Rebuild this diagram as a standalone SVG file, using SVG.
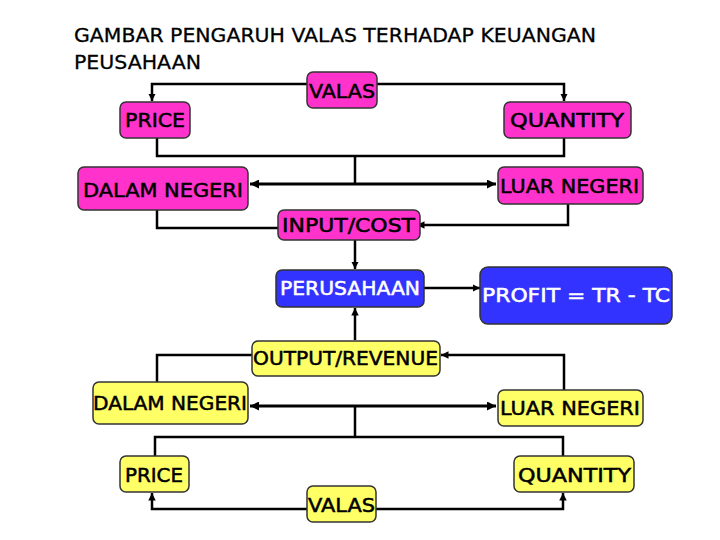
<svg xmlns="http://www.w3.org/2000/svg" width="720" height="540" viewBox="0 0 720 540">
<defs>
<style>
.title{font-family:"DejaVu Sans","Liberation Sans",sans-serif;font-size:20px;fill:#000;stroke:#000;stroke-width:0.3}
.lbl{font-family:"DejaVu Sans","Liberation Sans",sans-serif;font-size:19px;fill:#000;stroke:#000;stroke-width:0.5}
.wl{font-family:"DejaVu Sans","Liberation Sans",sans-serif;font-size:19px;fill:#fff;stroke:#fff;stroke-width:0.5}
.pink{fill:#ff33cc;stroke:#333;stroke-width:1.5}
.blue{fill:#3333ff;stroke:#333;stroke-width:1.5}
.yel{fill:#ffff66;stroke:#333;stroke-width:1.5}
.ln{fill:none;stroke:#000;stroke-width:2.5}
.dl{fill:none;stroke:#000;stroke-width:3}
</style>
<marker id="ah" viewBox="0 0 10 10" refX="10" refY="5" markerWidth="3" markerHeight="3" orient="auto-start-reverse" markerUnits="strokeWidth">
<path d="M0,0 L10,5 L0,10 z" fill="#000"/>
</marker>
</defs>
<rect width="720" height="540" fill="#fff"/>
<g id="title">
<text class="title" x="74" y="42" textLength="522" lengthAdjust="spacingAndGlyphs">GAMBAR PENGARUH VALAS TERHADAP KEUANGAN</text>
<text class="title" x="74" y="69" textLength="127" lengthAdjust="spacingAndGlyphs">PEUSAHAAN</text>
</g>
<g id="connectors">
<path class="ln" d="M307,84 H152 V101" marker-end="url(#ah)"/>
<path class="ln" d="M377,84 H564 V101" marker-end="url(#ah)"/>
<path class="ln" d="M157,138 V156 H564 V138"/>
<path class="ln" d="M355,156 V184"/>
<path class="dl" d="M250,184 H496" marker-start="url(#ah)" marker-end="url(#ah)"/>
<path class="ln" d="M157,210 V228 H289" marker-end="url(#ah)"/>
<path class="ln" d="M568,204 V225 H417" marker-end="url(#ah)"/>
<path class="ln" d="M355,240 V269" marker-end="url(#ah)"/>
<path class="ln" d="M424,288 H480" marker-end="url(#ah)"/>
<path class="ln" d="M355,340 V308" marker-end="url(#ah)"/>
<path class="ln" d="M252,355 H157 V382"/>
<path class="ln" d="M564,390 V355 H441" marker-end="url(#ah)"/>
<path class="dl" d="M250,406 H496" marker-start="url(#ah)" marker-end="url(#ah)"/>
<path class="ln" d="M355,406 V437"/>
<path class="ln" d="M155,456 V437 H563 V456"/>
<path class="ln" d="M307,509 H152 V493" marker-end="url(#ah)"/>
<path class="ln" d="M376,509 H563 V493" marker-end="url(#ah)"/>
</g>
<g id="valas-top">
<rect class="pink" x="307" y="72" width="70" height="36" rx="6"/>
<text class="lbl" x="309" y="98" textLength="66" lengthAdjust="spacingAndGlyphs">VALAS</text>
</g>
<g id="price-top">
<rect class="pink" x="120" y="102" width="70" height="36" rx="6"/>
<text class="lbl" x="125" y="127" textLength="60" lengthAdjust="spacingAndGlyphs">PRICE</text>
</g>
<g id="quantity-top">
<rect class="pink" x="504" y="102" width="127" height="36" rx="6"/>
<text class="lbl" x="510" y="127" textLength="114" lengthAdjust="spacingAndGlyphs">QUANTITY</text>
</g>
<g id="dalam-top">
<rect class="pink" x="78" y="167" width="170" height="43" rx="6"/>
<text class="lbl" x="83" y="197" textLength="160" lengthAdjust="spacingAndGlyphs">DALAM NEGERI</text>
</g>
<g id="luar-top">
<rect class="pink" x="498" y="167" width="145" height="37" rx="6"/>
<text class="lbl" x="500" y="193" textLength="139" lengthAdjust="spacingAndGlyphs">LUAR NEGERI</text>
</g>
<g id="input-cost">
<rect class="pink" x="278" y="210" width="142" height="30" rx="6"/>
<text class="lbl" x="282" y="232" textLength="133" lengthAdjust="spacingAndGlyphs">INPUT/COST</text>
</g>
<g id="perusahaan">
<rect class="blue" x="276" y="270" width="148" height="37" rx="6"/>
<text class="wl" x="280" y="295" textLength="140" lengthAdjust="spacingAndGlyphs">PERUSAHAAN</text>
</g>
<g id="profit">
<rect class="blue" x="480" y="267" width="192" height="57" rx="8"/>
<text class="wl" x="482" y="302" textLength="188" lengthAdjust="spacingAndGlyphs">PROFIT = TR - TC</text>
</g>
<g id="output-revenue">
<rect class="yel" x="252" y="341" width="188" height="35" rx="6"/>
<text class="lbl" x="253" y="365" textLength="185" lengthAdjust="spacingAndGlyphs">OUTPUT/REVENUE</text>
</g>
<g id="dalam-bottom">
<rect class="yel" x="93" y="382" width="155" height="42" rx="6"/>
<text class="lbl" x="93" y="410" textLength="154" lengthAdjust="spacingAndGlyphs">DALAM NEGERI</text>
</g>
<g id="luar-bottom">
<rect class="yel" x="498" y="390" width="145" height="36" rx="6"/>
<text class="lbl" x="500" y="415" textLength="140" lengthAdjust="spacingAndGlyphs">LUAR NEGERI</text>
</g>
<g id="price-bottom">
<rect class="yel" x="120" y="456" width="69" height="36" rx="6"/>
<text class="lbl" x="125" y="482" textLength="58" lengthAdjust="spacingAndGlyphs">PRICE</text>
</g>
<g id="quantity-bottom">
<rect class="yel" x="514" y="456" width="120" height="36" rx="6"/>
<text class="lbl" x="518" y="482" textLength="113" lengthAdjust="spacingAndGlyphs">QUANTITY</text>
</g>
<g id="valas-bottom">
<rect class="yel" x="307" y="486" width="69" height="36" rx="6"/>
<text class="lbl" x="308" y="512" textLength="67" lengthAdjust="spacingAndGlyphs">VALAS</text>
</g>
</svg>
